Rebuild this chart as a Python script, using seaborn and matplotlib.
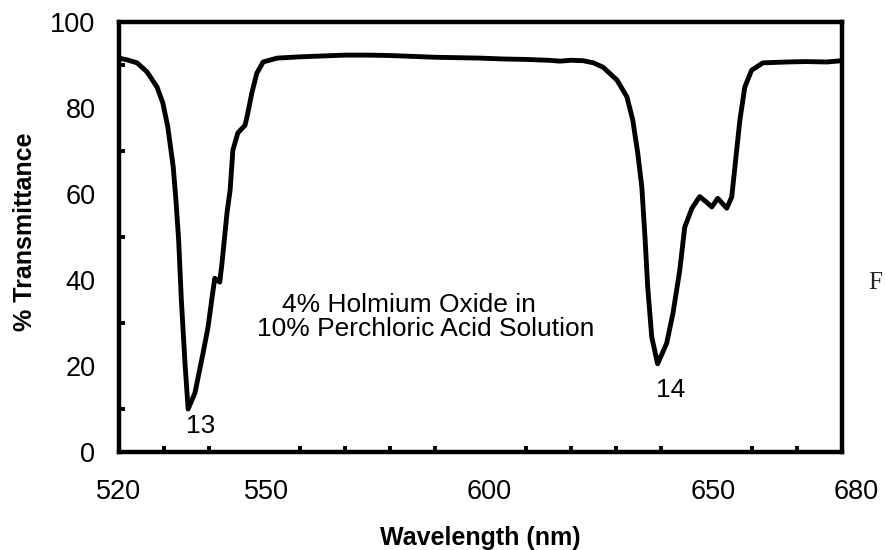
import matplotlib
matplotlib.use("Agg")
import matplotlib.pyplot as plt
import matplotlib.transforms as mtransforms
import seaborn as sns
import numpy as np

wavelength = [520, 521.8, 524, 526.2, 528.4, 529.7, 530.8, 532, 532.6, 533.2, 533.8, 534.6, 535.3,
              536.8, 538.6, 539.7, 540.6, 541.2, 542.3, 542.8, 543.9, 544.6, 545.2, 546.3, 547.9,
              548.5, 549.4, 550.5, 551.9, 555, 560, 565, 570, 575, 580, 585, 590, 595, 600, 605,
              610, 615, 617.6, 620, 622.7, 625, 627.1, 630.2, 632.4, 633.7, 634.8, 635.7, 636.4,
              637, 637.9, 639.2, 641.2, 642.6, 644.1, 645.2, 646.8, 648.5, 649.8, 651.2, 652.5,
              654.5, 655.6, 656.3, 657.4, 658.5, 660, 662.5, 667.8, 672, 676.6, 680]
transmittance = [91.6, 91.2, 90.5, 88.4, 84.9, 81.2, 75.6, 66.3, 58.6, 49.3, 35.3, 20.7, 10.0,
                 13.7, 23.0, 29.0, 36.0, 40.4, 39.5, 44.0, 55.6, 61.0, 70.2, 74.2, 76.0,
                 78.8, 83.5, 88.1, 90.7, 91.6, 91.9, 92.1, 92.3, 92.3, 92.2, 92.0, 91.8, 91.7, 91.6, 91.4,
                 91.3, 91.1, 90.9, 91.1, 91.0, 90.5, 89.5, 86.5, 82.6, 77.2, 69.5, 61.6, 50.0,
                 38.4, 26.7, 20.5, 25.3, 32.3, 42.3, 52.3, 56.7, 59.4, 58.3, 57.0, 59.0,
                 56.7, 59.3, 66.3, 77.2, 84.9, 88.8, 90.5, 90.7, 90.8, 90.7, 91.0]

x_ticks = [520, 550, 600, 650, 680]
y_ticks = [0, 20, 40, 60, 80, 100]
peak_labels = ["13", "14"]
peak_pos = [(538.1, 6.0), (642.1, 14.4)]
note_lines = ["4% Holmium Oxide in", "10% Perchloric Acid Solution"]

sns.set_style("white")
plt.rcParams['font.family'] = ['Liberation Sans', 'DejaVu Sans']

fig = plt.figure(figsize=(8.85, 5.5), dpi=100)
ax = fig.add_axes([119/885, 98/550, (842-119)/885, (452-22)/550])

sns.lineplot(x=wavelength, y=transmittance, ax=ax, color='black', lw=3.5, sort=False)

ax.set_xlim(520, 680)
ax.set_ylim(0, 100)
for s in ax.spines.values():
    s.set_linewidth(3.2)
    s.set_color('black')
    s.set_visible(True)

ax.set_xticks(x_ticks)
ax.set_xticklabels([str(v) for v in x_ticks])
ax.set_yticks(y_ticks)
ax.set_yticklabels([str(v) for v in y_ticks])
ax.set_xticks(np.arange(530, 680, 10), minor=True)
ax.set_yticks(np.arange(10, 100, 10), minor=True)
ax.tick_params(axis='both', which='both', bottom=True, left=True, top=False, right=False)
ax.tick_params(axis='both', which='major', length=0, labelsize=19.5, colors='black')
ax.tick_params(axis='x', which='major', pad=19.5)
ax.tick_params(axis='y', which='major', pad=17)
ax.tick_params(axis='both', which='minor', direction='in', length=4, width=2.8, colors='black')

offsets = [0, 12, 9, 7, 14]
for lab, dx in zip(ax.get_xticklabels(), offsets):
    lab.set_transform(lab.get_transform() + mtransforms.ScaledTranslation(dx/100, 0, fig.dpi_scale_trans))

ax.set_xlabel("Wavelength (nm)", fontsize=18, fontweight='bold', color='black')
ax.set_ylabel("% Transmittance", fontsize=18, fontweight='bold', color='black')
ax.xaxis.set_label_coords(0.5, (452-526)/430, transform=ax.transAxes)
ax.yaxis.set_label_coords((37-119)/723, 0.5 + 5/430, transform=ax.transAxes)

for lab, (px, py) in zip(peak_labels, peak_pos):
    ax.text(px, py, lab, fontsize=19, ha='center', va='center', color='black')

ax.text(556.1, 34.2, note_lines[0], fontsize=19, ha='left', va='center', color='black')
ax.text(550.5, 28.6, note_lines[1], fontsize=19, ha='left', va='center', color='black')

fig.text(875/885, 1 - 283/550, "F", fontsize=18, family=['Liberation Serif'], ha='center', va='center')

fig.savefig("out.png", dpi=100)
